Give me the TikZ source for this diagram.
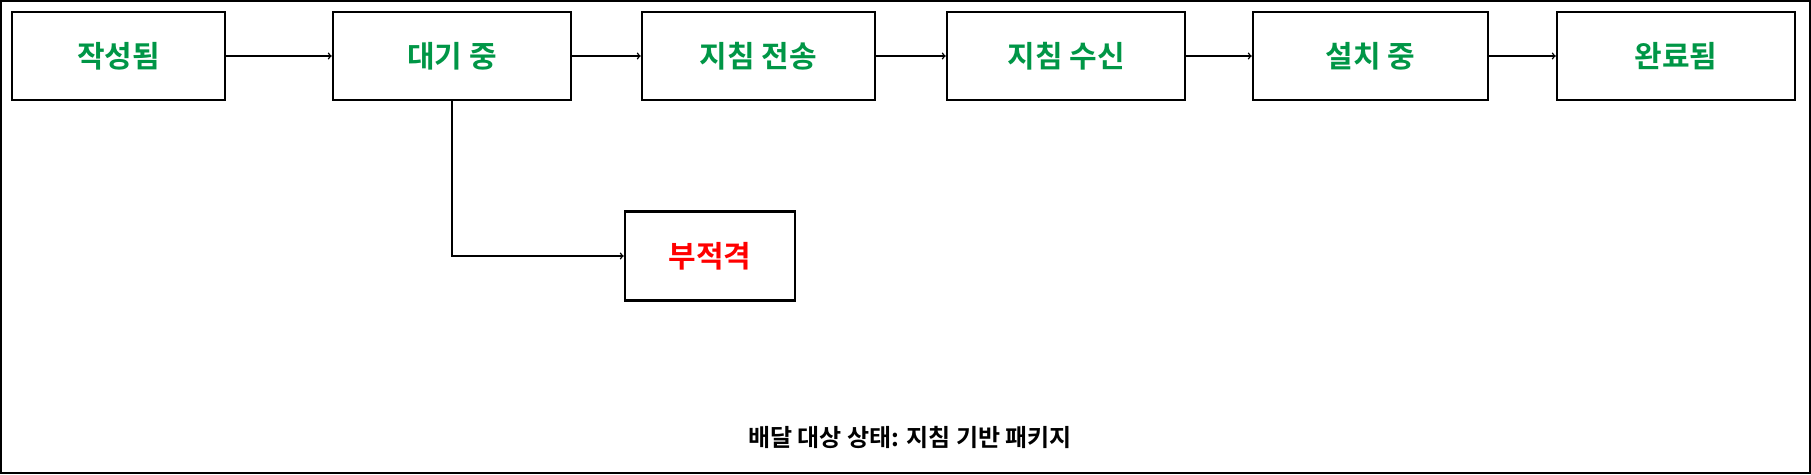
\documentclass[tikz,border=0pt]{standalone}
\usepackage{fontspec}
\newfontfamily\krfont{Noto Sans CJK KR}[BoldFont={Noto Sans CJK KR Bold}]
\usetikzlibrary{positioning}
\definecolor{stgreen}{RGB}{0,150,70}
\tikzset{
	statebox/.style={draw, line width=2.5pt, minimum width=238pt, minimum height=88pt, inner sep=0pt,
		font=\krfont\bfseries\fontsize{30}{34}\selectfont, text=stgreen},
	flow/.style={line width=1.5pt, ->}
}
\begin{document}
\begin{tikzpicture}[x=1pt, y=-1pt]
	
	% frame
	\draw[line width=2pt] (1,1) rectangle (1810,473);
	\useasboundingbox (0,0) rectangle (1811,474);
	
	% top row
	\node[statebox, minimum width=213pt] (draft) at (118.5,56) {작성됨};
	\node[statebox] (pending) at (452,56) {대기 중};
	\node[statebox, minimum width=233pt] (sent) at (758.5,56) {지침 전송};
	\node[statebox] (recv) at (1066,56) {지침 수신};
	\node[statebox, minimum width=235pt] (install) at (1370.5,56) {설치 중};
	\node[statebox] (done) at (1676,56) {완료됨};
	
	% rejected
	\node[statebox, minimum width=170pt, minimum height=89pt, text=red] (reject) at (710,256) {부적격};
	
	\draw[flow] (draft) -- (pending);
	\draw[flow] (pending) -- (sent);
	\draw[flow] (sent) -- (recv);
	\draw[flow] (recv) -- (install);
	\draw[flow] (install) -- (done);
	\draw[flow] (pending.south) |- (reject.west);
	
	\node[font=\krfont\bfseries\fontsize{24}{28}\selectfont] (caption) at (910,437) {배달 대상 상태: 지침 기반 패키지};
	
\end{tikzpicture}
\end{document}
